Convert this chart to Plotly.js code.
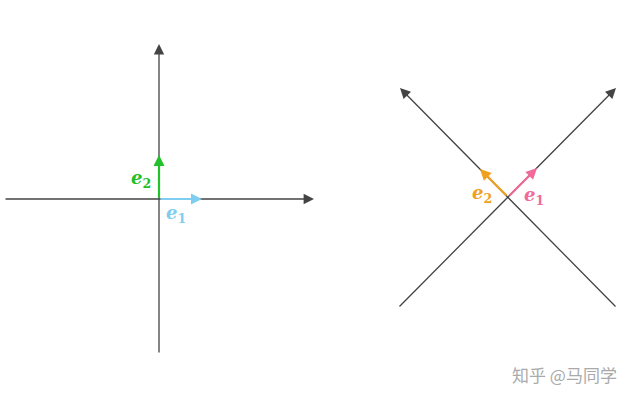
<!DOCTYPE html>
<html><head><meta charset="utf-8">
<script src="https://cdn.plot.ly/plotly-3.0.1.min.js"></script>
<style>body{margin:0}</style></head>
<body><div id="plot" style="width:642px;height:402px"></div>
<script>
// arrows in pixel-like coords: [fromX, fromY, toX, toY]
var axisArrows = [
  [4, 199, 314, 199],
  [159, 354, 159, 44],
  [398, 308, 616, 88],
  [617, 308, 400, 88]
]
var vecArrows = [
  [159, 199, 159, 155, '#22c02a'],
  [159, 199, 202, 199, '#7fcdf0'],
  [508, 197, 480, 169, '#f0a020'],
  [508, 197, 537, 168, '#f06a9a']
]
var labels = [
  [141, 179, 'e', '2', '#22c02a'],
  [176, 214, 'e', '1', '#7fcdf0'],
  [482, 194, 'e', '2', '#f0a020'],
  [534, 196, 'e', '1', '#f06a9a']
]

var annotations = []
axisArrows.forEach(function (a) {
  annotations.push({x: a[2], y: a[3], ax: a[0], ay: a[1], xref: 'x', yref: 'y', axref: 'x', ayref: 'y',
    text: '', showarrow: true, arrowhead: 2, arrowsize: 1.6, arrowwidth: 1.3, arrowcolor: '#444'})
})
vecArrows.forEach(function (a) {
  annotations.push({x: a[2], y: a[3], ax: a[0], ay: a[1], xref: 'x', yref: 'y', axref: 'x', ayref: 'y',
    text: '', showarrow: true, arrowhead: 2, arrowsize: 1.0, arrowwidth: 2.2, arrowcolor: a[4]})
})
labels.forEach(function (l) {
  annotations.push({x: l[0], y: l[1], xref: 'x', yref: 'y', text: '<b><i>' + l[2] + '</i>' + '<sub>' + l[3] + '</sub></b>', showarrow: false,
    font: {family: 'DejaVu Serif', size: 18, color: l[4]}})
})
annotations.push({x: 564, y: 374, xref: 'x', yref: 'y', text: '知乎 @马同学', showarrow: false,
  font: {family: 'Noto Sans CJK SC', size: 17, color: '#aaa'}})

Plotly.newPlot('plot', [], {
  width: 642, height: 402,
  margin: {l: 0, r: 0, t: 0, b: 0},
  paper_bgcolor: 'white', plot_bgcolor: 'white',
  xaxis: {range: [0, 642], visible: false},
  yaxis: {range: [402, 0], visible: false},
  showlegend: false,
  annotations: annotations
}, {displayModeBar: false})
</script></body></html>
